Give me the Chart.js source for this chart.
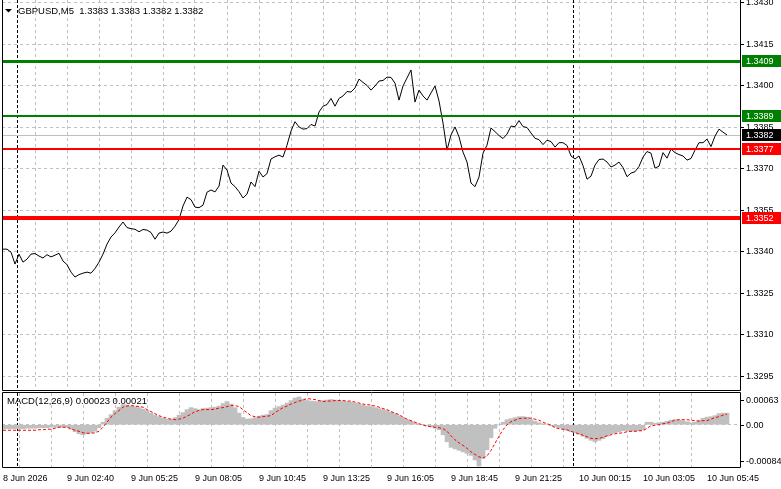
<!DOCTYPE html>
<html>
<head>
<meta charset="utf-8">
<script src="https://cdn.jsdelivr.net/npm/chart.js@4.4.1/dist/chart.umd.min.js"></script>
<style>
html, body { margin: 0; padding: 0; background: #fff; }
#wrap { position: relative; width: 781px; height: 489px; overflow: hidden; }
#main-box { position: absolute; left: 0; top: 0; width: 781px; height: 391px; }
#macd-box { position: absolute; left: 0; top: 391px; width: 781px; height: 98px; }
</style>
</head>
<body>
<div id="wrap">
    <div id="main-box"><canvas id="price-chart"></canvas></div>
    <div id="macd-box"><canvas id="macd-chart"></canvas></div>
</div>
<script>
var symbolTitle = "GBPUSD,M5  1.3383 1.3383 1.3382 1.3382";
var macdTitle = "MACD(12,26,9) 0.00023 0.00021";
var timeLabels = ["8 Jun 2026", "9 Jun 02:40", "9 Jun 05:25", "9 Jun 08:05", "9 Jun 10:45", "9 Jun 13:25",
    "9 Jun 16:05", "9 Jun 18:45", "9 Jun 21:25", "10 Jun 00:15", "10 Jun 03:05", "10 Jun 05:45"];
var priceTicks = [1.3295, 1.3310, 1.3325, 1.3340, 1.3355, 1.3370, 1.3385, 1.3400, 1.3415, 1.3430];
var macdTicks = [0.00063, 0, -0.00084];
var levelPrices = [1.3409, 1.3389, 1.3377, 1.3352];
var levelColors = ["#008000", "#008000", "#ff0000", "#ff0000"];
var levelWidths = [3, 2, 2, 4];
var bidPrice = 1.3382;
var separatorBars = [7, 285];
var barsPerPoint = 2;
var barsPerGrid = 16;
var barsPerLabel = 32;

// one close every 2 bars (M5)
var closes = [
    1.33409, 1.33409, 1.33398, 1.33355, 1.33391, 1.33362, 1.33373, 1.33391, 1.33393, 1.33384,
    1.33377, 1.33389, 1.33381, 1.33387, 1.33394, 1.33366, 1.33353, 1.33326, 1.33308, 1.33317,
    1.33322, 1.33326, 1.33322, 1.33339, 1.33362, 1.33391, 1.33427, 1.33453, 1.33468, 1.33489,
    1.33507, 1.33487, 1.33483, 1.33481, 1.33472, 1.33480, 1.33478, 1.33469, 1.33445, 1.33467,
    1.33471, 1.33467, 1.33474, 1.33492, 1.33516, 1.33565, 1.33597, 1.33588, 1.33561, 1.33559,
    1.33568, 1.33615, 1.33623, 1.33616, 1.33637, 1.33713, 1.33695, 1.33648, 1.33635, 1.33617,
    1.33594, 1.33608, 1.33652, 1.33635, 1.33691, 1.33670, 1.33682, 1.33735, 1.33743, 1.33749,
    1.33742, 1.33785, 1.33836, 1.33870, 1.33851, 1.33843, 1.33845, 1.33860, 1.33854, 1.33905,
    1.33926, 1.33932, 1.33954, 1.33926, 1.33954, 1.33963, 1.33979, 1.33977, 1.33992, 1.34024,
    1.34012, 1.34001, 1.33984, 1.33999, 1.34017, 1.34019, 1.34031, 1.34030, 1.34009, 1.33948,
    1.33999, 1.34028, 1.34057, 1.33941, 1.33984, 1.33963, 1.33948, 1.33974, 1.33999, 1.33945,
    1.33865, 1.33767, 1.33822, 1.33851, 1.33815, 1.33760, 1.33724, 1.33648, 1.33635, 1.33670,
    1.33756, 1.33785, 1.33847, 1.33834, 1.33820, 1.33809, 1.33825, 1.33854, 1.33852, 1.33874,
    1.33852, 1.33849, 1.33829, 1.33810, 1.33805, 1.33787, 1.33803, 1.33798, 1.33778, 1.33794,
    1.33794, 1.33784, 1.33746, 1.33735, 1.33746, 1.33711, 1.33662, 1.33673, 1.33713, 1.33733,
    1.33735, 1.33724, 1.33706, 1.33713, 1.33724, 1.33704, 1.33671, 1.33684, 1.33689, 1.33708,
    1.33742, 1.33762, 1.33756, 1.33702, 1.33709, 1.33758, 1.33738, 1.33771, 1.33758, 1.33751,
    1.33746, 1.33731, 1.33737, 1.33767, 1.33794, 1.33794, 1.33807, 1.33780, 1.33818, 1.33843,
    1.33832, 1.33822
];

var macdMain = [
    -0.00008, -0.00008, -0.00008, -0.00008, -0.00008, -0.00008, -0.00007, -0.00007, -0.00007, -0.00006,
    -0.00006, -0.00006, -0.00005, -0.00005, -0.00005, -0.00005, -0.00005, -0.00009, -0.00014, -0.00018,
    -0.00020, -0.00018, -0.00016, -0.00013, -0.00006, 0.00005, 0.00013, 0.00020, 0.00028, 0.00035,
    0.00040, 0.00039, 0.00037, 0.00036, 0.00034, 0.00031, 0.00028, 0.00023, 0.00019, 0.00016,
    0.00013, 0.00011, 0.00011, 0.00014, 0.00019, 0.00024, 0.00030, 0.00034, 0.00032, 0.00030,
    0.00032, 0.00033, 0.00034, 0.00035, 0.00037, 0.00042, 0.00046, 0.00041, 0.00034, 0.00023,
    0.00014, 0.00011, 0.00012, 0.00014, 0.00017, 0.00019, 0.00020, 0.00028, 0.00033, 0.00036,
    0.00039, 0.00043, 0.00048, 0.00053, 0.00055, 0.00051, 0.00048, 0.00047, 0.00046, 0.00047,
    0.00048, 0.00049, 0.00050, 0.00049, 0.00048, 0.00047, 0.00046, 0.00045, 0.00043, 0.00041,
    0.00039, 0.00037, 0.00036, 0.00034, 0.00032, 0.00030, 0.00028, 0.00025, 0.00022, 0.00018,
    0.00014, 0.00010, 0.00007, 0.00004, 0.00001, 0.00000, -0.00002, -0.00004, -0.00007, -0.00010,
    -0.00020, -0.00034, -0.00045, -0.00048, -0.00051, -0.00054, -0.00057, -0.00061, -0.00070, -0.00082,
    -0.00067, -0.00050, -0.00026, -0.00007, 0.00000, 0.00005, 0.00010, 0.00012, 0.00014, 0.00016,
    0.00016, 0.00015, 0.00010, 0.00007, 0.00004, 0.00002, 0.00001, -0.00002, -0.00004, -0.00006,
    -0.00009, -0.00011, -0.00014, -0.00016, -0.00019, -0.00023, -0.00027, -0.00031, -0.00034, -0.00031,
    -0.00028, -0.00023, -0.00018, -0.00016, -0.00014, -0.00012, -0.00012, -0.00013, -0.00013, -0.00012,
    -0.00010, 0.00005, 0.00005, 0.00003, 0.00004, 0.00005, 0.00007, 0.00009, 0.00010, 0.00009,
    0.00008, 0.00006, 0.00004, 0.00005, 0.00009, 0.00013, 0.00015, 0.00016, 0.00018, 0.00022,
    0.00023, 0.00023
];

var macdSignal = [
    -0.00011, -0.00011, -0.00011, -0.00011, -0.00011, -0.00011, -0.00011, -0.00011, -0.00011, -0.00010,
    -0.00010, -0.00009, -0.00009, -0.00007, -0.00005, -0.00005, -0.00005, -0.00008, -0.00011, -0.00013,
    -0.00016, -0.00017, -0.00017, -0.00016, -0.00013, -0.00005, 0.00005, 0.00015, 0.00022, 0.00028,
    0.00035, 0.00037, 0.00038, 0.00037, 0.00036, 0.00035, 0.00030, 0.00026, 0.00022, 0.00018,
    0.00015, 0.00013, 0.00011, 0.00010, 0.00011, 0.00013, 0.00017, 0.00021, 0.00026, 0.00028,
    0.00030, 0.00030, 0.00030, 0.00031, 0.00033, 0.00034, 0.00036, 0.00038, 0.00038, 0.00036,
    0.00030, 0.00024, 0.00018, 0.00016, 0.00015, 0.00016, 0.00017, 0.00018, 0.00024, 0.00029,
    0.00034, 0.00037, 0.00041, 0.00044, 0.00047, 0.00049, 0.00052, 0.00051, 0.00050, 0.00048,
    0.00046, 0.00047, 0.00047, 0.00048, 0.00048, 0.00048, 0.00047, 0.00047, 0.00045, 0.00043,
    0.00041, 0.00040, 0.00039, 0.00037, 0.00035, 0.00032, 0.00030, 0.00026, 0.00023, 0.00020,
    0.00015, 0.00011, 0.00008, 0.00005, 0.00002, -0.00001, -0.00003, -0.00004, -0.00005, -0.00006,
    -0.00008, -0.00013, -0.00022, -0.00030, -0.00036, -0.00041, -0.00047, -0.00054, -0.00059, -0.00064,
    -0.00066, -0.00062, -0.00051, -0.00037, -0.00023, -0.00010, 0.00000, 0.00006, 0.00009, 0.00012,
    0.00013, 0.00013, 0.00013, 0.00011, 0.00009, 0.00005, 0.00002, -0.00001, -0.00006, -0.00008,
    -0.00009, -0.00010, -0.00013, -0.00016, -0.00018, -0.00021, -0.00024, -0.00027, -0.00028, -0.00027,
    -0.00025, -0.00022, -0.00020, -0.00018, -0.00017, -0.00016, -0.00014, -0.00013, -0.00013, -0.00012,
    -0.00012, -0.00007, -0.00002, -0.00001, 0.00000, 0.00002, 0.00003, 0.00006, 0.00009, 0.00010,
    0.00010, 0.00010, 0.00009, 0.00008, 0.00007, 0.00008, 0.00008, 0.00011, 0.00014, 0.00016,
    0.00019, 0.00021
];

var FONT = "'Liberation Sans', Arial, sans-serif";
var gridGrey = "#c0c0c0";
var xMin = -0.5;
var xMax = 368.5;

window.addEventListener("load", init);

function init() {
    Chart.defaults.font.family = FONT;
    Chart.defaults.font.size = 9;
    Chart.defaults.color = "#000";
    initPriceChart();
    initMacdChart();
}

function toPoints(values) {
    return values.map(function (v, i) {
        return { x: i * barsPerPoint, y: v };
    });
}

function gridBars() {
    var ticks = [];
    for (var b = 0; b <= xMax - barsPerGrid; b += barsPerGrid) {
        ticks.push({ value: b });
    }
    return ticks;
}

function noPadding(scale) {
    scale.paddingTop = 0;
    scale.paddingBottom = 0;
    scale.paddingLeft = 0;
    scale.paddingRight = 0;
}

function timeAxis(showLabels) {
    return {
        type: "linear",
        min: xMin,
        max: xMax,
        offset: false,
        bounds: "data",
        afterBuildTicks: function (scale) { scale.ticks = gridBars(); },
        afterFit: function (scale) {
            scale.height = showLabels ? 22 : 0;
            noPadding(scale);
        },
        grid: {
            color: function (ctx) { return ctx.tick && ctx.tick.value > 0 ? gridGrey : "rgba(0,0,0,0)"; },
            drawTicks: false
        },
        border: { display: false, dash: [3, 3] },
        ticks: {
            display: showLabels,
            autoSkip: false,
            maxRotation: 0,
            minRotation: 0,
            align: "start",
            padding: 6,
            callback: function (value) {
                return value % barsPerLabel === 0 ? timeLabels[value / barsPerLabel] : "";
            }
        }
    };
}

function drawSeparators(chart) {
    var ctx = chart.ctx, area = chart.chartArea, xs = chart.scales.x;
    ctx.save();
    ctx.strokeStyle = "#000";
    ctx.lineWidth = 1;
    ctx.setLineDash([3, 2]);
    separatorBars.forEach(function (b) {
        var x = Math.round(xs.getPixelForValue(b)) + 0.5;
        ctx.beginPath();
        ctx.moveTo(x, area.top);
        ctx.lineTo(x, area.bottom);
        ctx.stroke();
    });
    ctx.restore();
}

function drawFrame(chart, withTop) {
    var ctx = chart.ctx, a = chart.chartArea;
    ctx.save();
    ctx.strokeStyle = "#000";
    ctx.lineWidth = 1;
    ctx.beginPath();
    if (withTop) {
        ctx.moveTo(a.left + 0.5, a.bottom + 0.5);
        ctx.lineTo(a.left + 0.5, a.top - 0.5);
        ctx.lineTo(a.right + 0.5, a.top - 0.5);
        ctx.lineTo(a.right + 0.5, a.bottom + 0.5);
        ctx.closePath();
    } else {
        ctx.moveTo(a.left + 0.5, a.top);
        ctx.lineTo(a.left + 0.5, a.bottom - 0.5);
        ctx.lineTo(a.right + 0.5, a.bottom - 0.5);
        ctx.lineTo(a.right + 0.5, a.top);
    }
    ctx.stroke();
    ctx.restore();
}

function drawTag(ctx, area, y, text, color) {
    ctx.fillStyle = color;
    ctx.fillRect(area.right + 2, y - 6, 39, 12);
    ctx.fillStyle = "#fff";
    ctx.textBaseline = "middle";
    ctx.textAlign = "left";
    ctx.fillText(text, area.right + 6, y + 0.5);
}

var pricePlugin = {
    id: "pricePlugin",
    beforeDatasetsDraw: function (chart) {
        var ctx = chart.ctx, a = chart.chartArea, ys = chart.scales.y;
        drawSeparators(chart);
        var y = Math.round(ys.getPixelForValue(bidPrice)) + 0.5;
        ctx.save();
        ctx.strokeStyle = gridGrey;
        ctx.lineWidth = 1;
        ctx.beginPath();
        ctx.moveTo(a.left, y);
        ctx.lineTo(a.right, y);
        ctx.stroke();
        ctx.restore();
    },
    afterDatasetsDraw: function (chart) {
        var ctx = chart.ctx, a = chart.chartArea, ys = chart.scales.y;
        ctx.save();
        levelPrices.forEach(function (p, i) {
            var w = levelWidths[i];
            var y = Math.round(ys.getPixelForValue(p)) + (w % 2 ? 0.5 : 0);
            ctx.strokeStyle = levelColors[i];
            ctx.lineWidth = w;
            ctx.beginPath();
            ctx.moveTo(a.left, y);
            ctx.lineTo(a.right, y);
            ctx.stroke();
        });
        ctx.restore();
    },
    afterDraw: function (chart) {
        var ctx = chart.ctx, a = chart.chartArea, ys = chart.scales.y;
        drawFrame(chart, false);
        ctx.save();
        ctx.font = "9px " + FONT;
        levelPrices.forEach(function (p, i) {
            drawTag(ctx, a, Math.round(ys.getPixelForValue(p)), p.toFixed(4), levelColors[i]);
        });
        drawTag(ctx, a, Math.round(ys.getPixelForValue(bidPrice)), bidPrice.toFixed(4), "#000");
        // title
        ctx.fillStyle = "#000";
        ctx.beginPath();
        ctx.moveTo(5, 9);
        ctx.lineTo(12, 9);
        ctx.lineTo(8.5, 12.5);
        ctx.closePath();
        ctx.fill();
        ctx.font = "9.5px " + FONT;
        ctx.textBaseline = "alphabetic";
        ctx.fillText(symbolTitle, 18, 13.5);
        ctx.restore();
    }
};

function initPriceChart() {
    const data = {
        datasets: [
            {
                type: "line",
                data: toPoints(closes),
                borderColor: "#000",
                borderWidth: 1,
                pointRadius: 0,
                tension: 0
            }
        ]
    };

    const config = {
        type: "line",
        data: data,
        options: {
            responsive: true,
            maintainAspectRatio: false,
            animation: false,
            events: [],
            layout: { padding: { left: 2, right: 0, top: 0, bottom: 0 } },
            plugins: { legend: { display: false }, tooltip: { enabled: false } },
            scales: {
                x: timeAxis(false),
                y: {
                    position: "right",
                    min: 1.32896,
                    max: 1.34310,
                    bounds: "data",
                    afterBuildTicks: function (scale) {
                        scale.ticks = priceTicks.map(function (v) { return { value: v }; });
                    },
                    afterFit: function (scale) {
                        scale.width = 41;
                        noPadding(scale);
                    },
                    grid: { color: gridGrey, drawTicks: true, tickLength: 4, tickColor: "#000" },
                    border: { display: false, dash: [3, 3] },
                    ticks: {
                        autoSkip: false,
                        padding: 2,
                        callback: function (v) { return v.toFixed(4); }
                    }
                }
            }
        },
        plugins: [pricePlugin]
    };
    const priceChart = new Chart(document.getElementById("price-chart"), config);
}

var macdPlugin = {
    id: "macdPlugin",
    beforeDatasetsDraw: function (chart) {
        drawSeparators(chart);
    },
    afterDraw: function (chart) {
        var ctx = chart.ctx, a = chart.chartArea, ys = chart.scales.y;
        drawFrame(chart, true);
        ctx.save();
        ctx.font = "9px " + FONT;
        ctx.fillStyle = "#000";
        ctx.strokeStyle = "#000";
        ctx.lineWidth = 1;
        ctx.textBaseline = "middle";
        macdTicks.forEach(function (v) {
            var y = Math.round(ys.getPixelForValue(v));
            y = Math.min(Math.max(y, a.top + 7), a.bottom - 6);
            ctx.beginPath();
            ctx.moveTo(a.right, y + 0.5);
            ctx.lineTo(a.right + 4, y + 0.5);
            ctx.stroke();
            ctx.fillText(v === 0 ? "0.00" : v.toFixed(5), a.right + 6, y + 0.5);
        });
        ctx.font = "9.5px " + FONT;
        ctx.textBaseline = "alphabetic";
        ctx.fillText(macdTitle, 7, 13);
        ctx.restore();
    }
};

function initMacdChart() {
    const data = {
        datasets: [
            {
                type: "line",
                label: "Signal",
                data: toPoints(macdSignal),
                borderColor: "#ff0000",
                borderWidth: 1,
                borderDash: [3, 2],
                pointRadius: 0,
                tension: 0,
                order: 0
            },
            {
                type: "bar",
                label: "MACD",
                data: toPoints(macdMain),
                backgroundColor: "#c0c0c0",
                borderWidth: 0,
                barPercentage: 1,
                categoryPercentage: 1,
                order: 1
            }
        ]
    };

    const config = {
        type: "bar",
        data: data,
        options: {
            responsive: true,
            maintainAspectRatio: false,
            animation: false,
            events: [],
            layout: { padding: { left: 2, right: 0, top: 2, bottom: 0 } },
            plugins: { legend: { display: false }, tooltip: { enabled: false } },
            scales: {
                x: timeAxis(true),
                y: {
                    position: "right",
                    min: -0.00084,
                    max: 0.00063,
                    bounds: "data",
                    afterBuildTicks: function (scale) { scale.ticks = [{ value: 0 }]; },
                    afterFit: function (scale) {
                        scale.width = 41;
                        noPadding(scale);
                    },
                    grid: { color: gridGrey, drawTicks: false },
                    border: { display: false, dash: [3, 3] },
                    ticks: { display: false }
                }
            }
        },
        plugins: [macdPlugin]
    };
    const macdChart = new Chart(document.getElementById("macd-chart"), config);
}
</script>
</body>
</html>
